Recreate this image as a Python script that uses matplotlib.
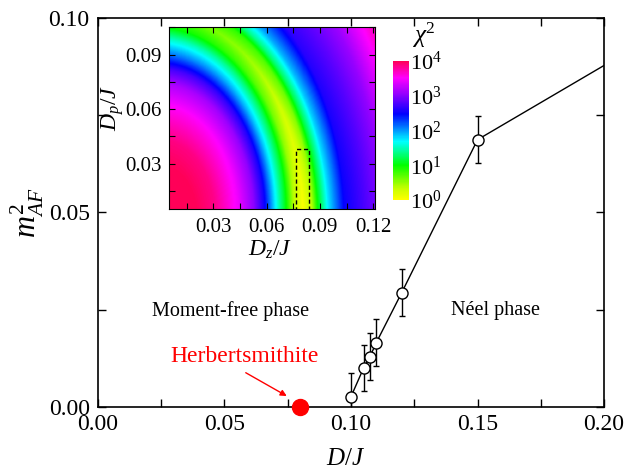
import numpy as np
import matplotlib
matplotlib.use("Agg")
import matplotlib.pyplot as plt
from matplotlib.colors import LinearSegmentedColormap, LogNorm
from matplotlib.patches import Rectangle
from matplotlib.ticker import MultipleLocator, FixedLocator

plt.rcParams["font.family"] = ["Liberation Serif", "DejaVu Serif"]
plt.rcParams["mathtext.fontset"] = "custom"
plt.rcParams["mathtext.rm"] = "Liberation Serif"
plt.rcParams["mathtext.it"] = "Liberation Serif:italic"

# main curve: staggered magnetization squared vs D/J
d_j = [0.100, 0.105, 0.1075, 0.110, 0.120, 0.150]
m2_af = [0.0026, 0.0100, 0.0129, 0.0165, 0.0293, 0.0687]
m2_err = [0.0060, 0.0060, 0.0060, 0.0060, 0.0060, 0.0060]
# line continues beyond the last point to the right edge
line_x = d_j + [0.200]
line_y = m2_af + [0.0878]

herbert_x = 0.08
herbert_y = 0.0

# inset: log10(chi^2) profile read along the bottom row (D_p ~ 0)
prof_r = [0.000, 0.020, 0.031, 0.044, 0.053, 0.059, 0.065, 0.071, 0.0755,
          0.0805, 0.0855, 0.089, 0.0945, 0.104, 0.115, 0.125, 0.140, 0.160]
prof_log = [4.0, 4.0, 3.85, 3.45, 3.0, 2.5, 1.7, 1.0, 0.35,
            0.0, 0.35, 1.0, 1.7, 2.5, 2.75, 3.0, 3.6, 3.9]
# valley floor rises from bottom (D_p=0) to the top-left of the map
arc_angle = [0, 30, 55, 90]
arc_floor = [0.0, 0.25, 0.5, 0.75]
dp_stretch = 1.38

cmap_pos = [0.0, 0.08, 0.25, 0.42, 0.62, 0.76, 0.88, 1.0]
cmap_cols = ["#ffff00", "#c8ff00", "#00ff00", "#00ffff", "#0000ff",
             "#9000ff", "#ff00ff", "#ff0058"]

dz = np.linspace(0.005, 0.121, 240)
dp = np.linspace(0.005, 0.105, 220)
DZ, DP = np.meshgrid(dz, dp)
R = np.sqrt(DZ ** 2 + (DP / dp_stretch) ** 2)
ANG = np.degrees(np.arctan2(DP / dp_stretch, DZ))
base = np.interp(R, prof_r, prof_log)
floor = np.interp(ANG, arc_angle, arc_floor)
logchi = np.clip(floor + base * (1 - floor / 4.0), 0, 4)
chi2 = 10 ** logchi

cmap = LinearSegmentedColormap.from_list("chi", list(zip(cmap_pos, cmap_cols)))

fig = plt.figure(figsize=(6.26, 4.68), dpi=100)
ax = fig.add_axes([0.1565, 0.131, 0.8085, 0.8305])

ax.plot(line_x, line_y, color="black", lw=1.0, zorder=2)
ax.errorbar(d_j, m2_af, yerr=m2_err, fmt="o", mfc="white", mec="black",
            ms=8, mew=1.0, ecolor="black", elinewidth=1.0, capsize=2.5,
            capthick=1.0, zorder=3)
ax.plot([herbert_x], [herbert_y], "o", color="red", ms=11.5, clip_on=False, zorder=5)

ax.text(0.0581, 0.01285, "Herbertsmithite", color="red", fontsize=17,
        ha="center", va="center")
ax.annotate("", xy=(0.0746, 0.00275), xytext=(0.0584, 0.00874),
            arrowprops=dict(arrowstyle="-|>", color="red", lw=1.0,
                            mutation_scale=9, shrinkA=0, shrinkB=0))
ax.text(0.0522, 0.0247, "Moment-free phase", fontsize=14.5, ha="center", va="center")
ax.text(0.1569, 0.0247, "N\u00e9el phase", fontsize=14.5, ha="center", va="center")

ax.set_xlim(0, 0.2)
ax.set_ylim(0, 0.1)
ax.xaxis.set_major_locator(MultipleLocator(0.05))
ax.xaxis.set_minor_locator(MultipleLocator(0.025))
ax.yaxis.set_major_locator(MultipleLocator(0.05))
ax.yaxis.set_minor_locator(MultipleLocator(0.025))
ax.xaxis.set_major_formatter(plt.FormatStrFormatter("%.2f"))
ax.yaxis.set_major_formatter(plt.FormatStrFormatter("%.2f"))
ax.tick_params(which="both", direction="in", top=True, right=True, labelsize=17)
ax.tick_params(axis="x", which="major", pad=5)
ax.tick_params(axis="y", which="major", pad=6)
ax.tick_params(which="both", length=6, width=1.0)
for s in ax.spines.values():
    s.set_linewidth(1.2)
ax.set_xlabel("$D/J$", fontsize=18)
ax.xaxis.set_label_coords(0.49, -0.105)
ax.set_ylabel("$m^2_{AF}$", fontsize=22)
ax.yaxis.set_label_coords(-0.102, 0.50)

# inset map
ins = fig.add_axes([0.270, 0.5528, 0.329, 0.3889])
im = ins.imshow(chi2, origin="lower", extent=[dz[0], dz[-1], dp[0], dp[-1]],
                aspect="auto", cmap=cmap, norm=LogNorm(1, 1e4),
                interpolation="bilinear")
ins.add_patch(Rectangle((0.0765, 0.0), 0.0075, 0.038, fill=False,
                        ls=(0, (3, 2)), lw=1.0, ec="black"))
ins.set_xlim(0.005, 0.121)
ins.set_ylim(0.005, 0.105)
ins.xaxis.set_major_locator(MultipleLocator(0.03))
ins.xaxis.set_minor_locator(MultipleLocator(0.015))
ins.yaxis.set_major_locator(MultipleLocator(0.03))
ins.yaxis.set_minor_locator(MultipleLocator(0.015))
ins.xaxis.set_major_formatter(plt.FormatStrFormatter("%.2f"))
ins.yaxis.set_major_formatter(plt.FormatStrFormatter("%.2f"))
ins.tick_params(which="both", direction="in", top=True, right=True,
                labelsize=15, length=4, width=0.8)
ins.tick_params(axis="x", which="major", pad=6)
ins.tick_params(axis="y", which="major", pad=5)
ins.set_xlabel("$D_z/J$", fontsize=17)
ins.xaxis.set_label_coords(0.49, -0.16)
ins.set_ylabel("$D_p/J$", fontsize=17)
ins.yaxis.set_label_coords(-0.21, 0.557)

cax = fig.add_axes([0.627, 0.5726, 0.026, 0.297])
cb = fig.colorbar(im, cax=cax)
cb.outline.set_visible(False)
cb.set_ticks([1, 10, 100, 1000, 10000])
cb.ax.yaxis.set_minor_locator(FixedLocator([]))
cb.ax.tick_params(length=0, labelsize=16, pad=1)
cax.text(1.2, 1.08, r"$\chi^2$", transform=cax.transAxes, fontsize=18,
         ha="left", va="bottom")

fig.savefig("out.png", dpi=100)
